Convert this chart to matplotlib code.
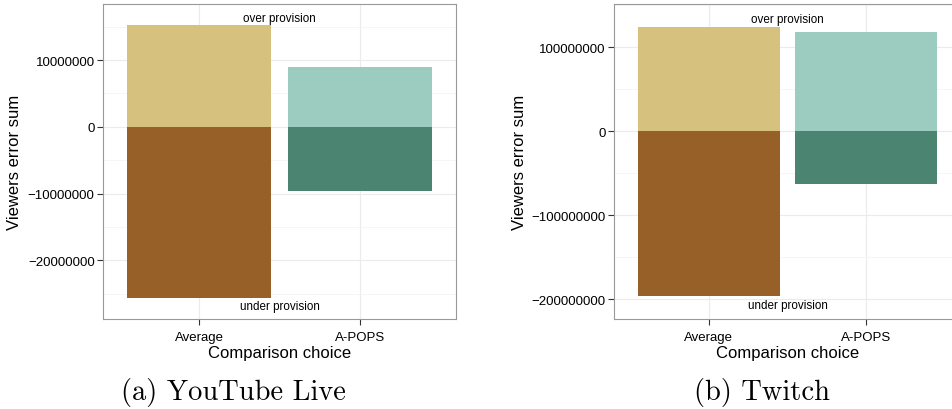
import matplotlib
matplotlib.use("Agg")
import matplotlib.pyplot as plt
from matplotlib.ticker import MultipleLocator, FuncFormatter

# data
choices = ["Average", "A-POPS"]
yt_over = [15250000, 9000000]
yt_under = [-25700000, -9650000]
tw_over = [124600000, 118700000]
tw_under = [-196400000, -63100000]

over_cols = ["#D6C17F", "#9BCCBF"]
under_cols = ["#966028", "#4B8571"]

plt.rcParams['font.family'] = ['Liberation Sans', 'DejaVu Sans']

W, H = 952, 410
fig = plt.figure(figsize=(W / 100, H / 100), dpi=100)


def fmt(v, pos):
    return f"{int(round(v))}".replace("-", "\u2212")


def panel(rect, over, under, ylim, major, over_y, under_y, ylab_x):
    ax = fig.add_axes(rect)
    x = [1, 2]
    ax.bar(x, over, width=0.9, color=over_cols, zorder=2)
    ax.bar(x, under, width=0.9, color=under_cols, zorder=2)
    ax.set_xlim(0.4, 2.6)
    ax.set_ylim(*ylim)
    ax.yaxis.set_major_locator(MultipleLocator(major))
    ax.yaxis.set_minor_locator(MultipleLocator(major / 2))
    ax.yaxis.set_major_formatter(FuncFormatter(fmt))
    ax.set_xticks(x)
    ax.set_xticklabels(choices, fontsize=9.5)
    ax.tick_params(axis='y', labelsize=9.5)
    ax.tick_params(which='major', length=4, color='#333333', width=0.8, pad=2)
    ax.tick_params(axis='x', pad=5)
    ax.tick_params(which='minor', length=0)
    ax.grid(True, which='major', color='#EBEBEB', lw=0.8, zorder=0)
    ax.grid(True, which='minor', axis='y', color='#F5F5F5', lw=0.6, zorder=0)
    ax.set_axisbelow(True)
    for s in ax.spines.values():
        s.set_color('#999999')
        s.set_linewidth(0.8)
    ax.text(1.5, over_y, "over provision", ha='center', va='center', fontsize=8.4)
    ax.text(1.5, under_y, "under provision", ha='center', va='center', fontsize=8.4)
    ax.set_xlabel("Comparison choice", fontsize=12, labelpad=1)
    ax.set_ylabel("Viewers error sum", fontsize=12)
    ax.yaxis.set_label_coords(ylab_x, 0.5)
    return ax


ax1 = panel([103 / W, 90 / H, 353 / W, 315 / H], yt_over, yt_under,
            (-28800000, 18400000), 10000000, 16300000, -26800000, 0)
ax2 = panel([614 / W, 90 / H, 347 / W, 315 / H], tw_over, tw_under,
            (-223300000, 151700000), 100000000, 134000000, -207000000, 0)
# y label x position in pixels
ax1.yaxis.set_label_coords((22 - 103) / 353, 0.5)
ax2.yaxis.set_label_coords((527 - 614) / 347, 0.5)

fig.text(233 / W, 1 - 393 / H, "(a) YouTube Live", ha='center', va='center',
         fontsize=20.5, family=['cmr10', 'DejaVu Serif'])
fig.text(762 / W, 1 - 393 / H, "(b) Twitch", ha='center', va='center',
         fontsize=20.5, family=['cmr10', 'DejaVu Serif'])

fig.savefig("out.png", dpi=100)
